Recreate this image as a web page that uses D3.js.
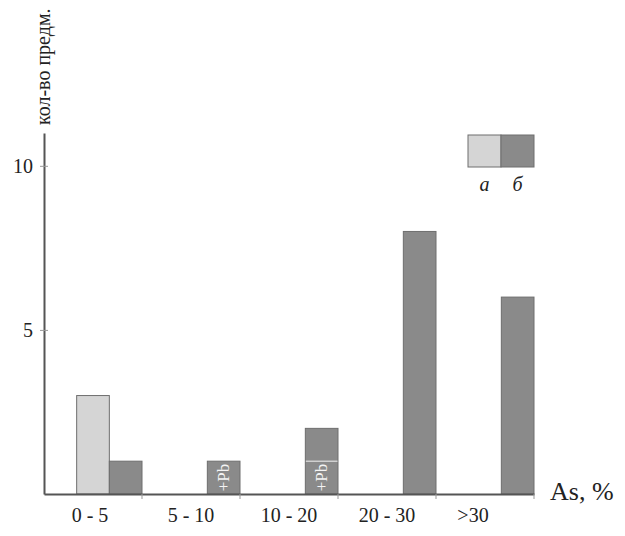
<!DOCTYPE html>
<html>
<head>
<meta charset="utf-8">
<script src="https://cdn.jsdelivr.net/npm/d3@7"></script>
<style>
html,body{margin:0;padding:0;background:#fff;}
svg{display:block;}
text{font-family:"Liberation Serif","Times New Roman",serif;}
</style>
</head>
<body>
<svg id="chart" width="625" height="536"></svg>
<script>
const categories = ["0 - 5", "5 - 10", "10 - 20", "20 - 30", ">30"];
const seriesKeys = ["а", "б"];
const seriesA = [3, 0, 0, 0, 0];
const seriesB = [1, 1, 2, 8, 6];
const pbPartB = [0, 1, 1, 0, 0];
const yTicks = [5, 10];
const yLabel = "кол-во предм.";
const xLabel = "As, %";

const colors = {"а": "#d5d5d5", "б": "#8a8a8a"};
const stroke = "#6e6e6e";
const axisColor = "#555";
const serif = '"Liberation Serif", "Times New Roman", serif';

const svg = d3.select("#chart");
const x0 = 44, x1 = 534, yBase = 494, yTop = 133;

const x = d3.scaleBand().domain(categories).range([x0, x1]).paddingInner(0).paddingOuter(0);
const bw = x.bandwidth();
const xs = d3.scaleBand().domain(seriesKeys).range([bw / 3, bw]).padding(0);
const y = d3.scaleLinear().domain([0, 11]).range([yBase, yTop]);

const rows = categories.map((c, i) => ({cat: c, "а": seriesA[i], "б": seriesB[i], pb: pbPartB[i]}));

// bars
const g = svg.append("g");
rows.forEach(r => {
  seriesKeys.forEach(k => {
    if (r[k] > 0) {
      g.append("rect")
        .attr("x", x(r.cat) + xs(k))
        .attr("y", y(r[k]))
        .attr("width", xs.bandwidth())
        .attr("height", y(0) - y(r[k]))
        .attr("fill", colors[k])
        .attr("stroke", stroke)
        .attr("stroke-width", 1);
    }
  });
  if (r.pb > 0) {
    const bx = x(r.cat) + xs("б");
    if (r["б"] > r.pb) {
      g.append("line")
        .attr("x1", bx + 0.5).attr("x2", bx + xs.bandwidth() - 0.5)
        .attr("y1", y(r.pb)).attr("y2", y(r.pb))
        .attr("stroke", "#f2f2f2").attr("stroke-width", 1);
    }
    const cx = bx + xs.bandwidth() / 2;
    const cy = (y(0) + y(r.pb)) / 2;
    g.append("text")
      .attr("transform", `translate(${cx + 5},${cy}) rotate(-90)`)
      .attr("text-anchor", "middle")
      .attr("font-family", serif)
      .attr("font-size", 17)
      .attr("fill", "#f4f4f4")
      .text("+Pb");
  }
});

// y axis
const yAxis = d3.axisLeft(y).tickValues(yTicks).tickSize(0).tickPadding(11).tickFormat(d3.format("d"));
const ya = svg.append("g").attr("transform", `translate(${x0},0)`).call(yAxis);
ya.attr("font-family", serif);
ya.select(".domain").attr("stroke", axisColor).attr("stroke-width", 2);
ya.selectAll(".tick text").attr("font-size", 20).attr("fill", "#222").attr("font-family", serif);
ya.selectAll(".tick").append("line").attr("x1", -4).attr("x2", 4).attr("stroke", "#999").attr("stroke-width", 1);

// x axis
const xAxis = d3.axisBottom(x).tickSize(0).tickPadding(14);
const xa = svg.append("g").attr("transform", `translate(0,${yBase})`).call(xAxis);
xa.attr("font-family", serif);
xa.select(".domain").attr("stroke", axisColor).attr("stroke-width", 2);
xa.selectAll(".tick text").attr("font-size", 20).attr("fill", "#222").attr("font-family", serif)
  .attr("dx", (d, i) => i === categories.length - 1 ? -12 : (i === 0 ? -3 : 0));
// boundary ticks
xa.selectAll(".bound").data(categories.slice(1)).enter().append("line")
  .attr("class", "bound")
  .attr("x1", d => x(d)).attr("x2", d => x(d))
  .attr("y1", 0).attr("y2", 5)
  .attr("stroke", "#999").attr("stroke-width", 1);
xa.append("line").attr("x1", x1).attr("x2", x1).attr("y1", 0).attr("y2", 5)
  .attr("stroke", "#999").attr("stroke-width", 1);

// axis titles
svg.append("text")
  .attr("transform", `translate(${x0 + 6},${yTop - 8}) rotate(-90)`)
  .attr("text-anchor", "start")
  .attr("font-family", serif)
  .attr("font-size", 20)
  .attr("fill", "#222")
  .text(yLabel);

svg.append("text")
  .attr("x", 550).attr("y", 500)
  .attr("font-family", serif)
  .attr("font-size", 26)
  .attr("fill", "#222")
  .text(xLabel);

// legend
const legX = 468, legY = 135, legW = 33, legH = 32;
const leg = svg.append("g");
seriesKeys.forEach((k, i) => {
  leg.append("rect")
    .attr("x", legX + i * legW).attr("y", legY)
    .attr("width", legW).attr("height", legH)
    .attr("fill", colors[k]).attr("stroke", stroke).attr("stroke-width", 1);
  leg.append("text")
    .attr("x", legX + i * legW + legW / 2).attr("y", legY + legH + 24)
    .attr("text-anchor", "middle")
    .attr("font-family", serif)
    .attr("font-size", 20)
    .attr("font-style", "italic")
    .attr("fill", "#222")
    .text(k);
});
</script>
</body>
</html>
